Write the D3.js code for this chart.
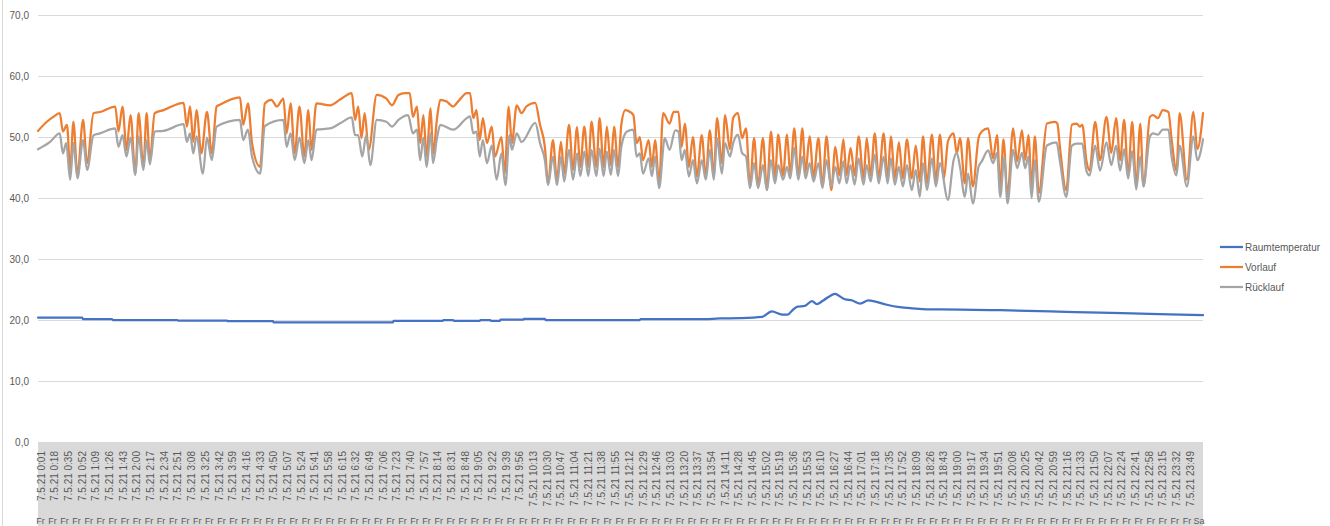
<!DOCTYPE html>
<html>
<head>
<meta charset="utf-8">
<script src="https://cdn.jsdelivr.net/npm/d3@7"></script>
<style>
  body { margin: 0; background: #fff; }
  svg { display: block; font-family: "Liberation Sans", Arial, sans-serif; }
</style>
</head>
<body>
<div id="chart"></div>
<script>
// values: [minute of day, °C]
var raumtemperatur = [[-3,20.4],[52,20.4],[53,20.15],[89,20.15],[90,20.0],[170,20.0],[171,19.9],[232,19.9],[233,19.8],[289,19.8],[290,19.6],[438,19.6],[439,19.85],[500,19.85],[501,20.0],[513,20.0],[514,19.85],[546,19.85],[547,20.0],[559,20.0],[560,19.85],[571,19.85],[572,20.05],[600,20.05],[601,20.2],[627,20.2],[628,20.0],[745,20.0],[746,20.15],[820,20.15],[845,20.25],[870,20.3],[897,20.5],[909,21.4],[922,20.9],[929,20.9],[934,21.5],[941,22.2],[950,22.3],[959,23.1],[965,22.6],[973,23.2],[988,24.3],[991,24.1],[1000,23.4],[1009,23.2],[1019,22.7],[1029,23.2],[1035,23.1],[1052,22.5],[1068,22.1],[1084,21.9],[1102,21.75],[1118,21.75],[1193,21.6],[1255,21.4],[1317,21.2],[1379,21.0],[1445,20.8]];

var vorlauf = [[-3,51.0],[8,52.5],[16,53.3],[24,53.9],[28,50.9],[33,52.0],[37,44.6],[41,52.5],[46,43.8],[53,52.8],[58,45.7],[66,53.9],[74,54.1],[93,55.0],[97,50.9],[102,55.0],[107,47.9],[112,53.6],[118,44.0],[122,53.9],[128,45.1],[132,53.9],[136,46.2],[142,53.9],[153,54.4],[178,55.6],[182,51.7],[186,55.0],[190,49.2],[194,54.4],[200,47.3],[207,54.1],[213,47.3],[219,55.0],[223,55.3],[248,56.5],[252,52.0],[258,55.5],[263,49.0],[273,45.1],[279,55.5],[287,56.1],[294,55.0],[302,56.3],[306,50.6],[311,55.5],[316,47.3],[322,55.0],[328,46.8],[333,54.4],[337,47.9],[343,55.5],[360,55.2],[372,56.1],[387,57.2],[391,52.8],[395,55.0],[399,49.8],[403,53.9],[408,47.9],[418,56.9],[430,56.3],[437,55.2],[445,56.9],[453,57.2],[459,57.2],[463,53.3],[468,55.0],[472,49.0],[476,53.6],[480,46.8],[485,54.7],[488,47.3],[493,53.1],[497,56.1],[505,55.8],[513,55.0],[519,55.8],[530,57.2],[534,57.2],[538,53.1],[542,54.4],[546,49.5],[550,53.1],[555,49.0],[561,51.7],[565,46.8],[573,50.0],[577,44.0],[582,55.0],[586,49.0],[592,55.2],[598,53.9],[604,55.0],[615,55.6],[621,52.0],[627,48.4],[631,42.4],[637,49.5],[642,43.0],[647,49.2],[651,44.0],[657,52.0],[662,44.6],[667,51.6],[671,45.1],[676,51.7],[681,45.1],[685,52.5],[691,45.1],[695,53.1],[700,45.1],[704,51.7],[709,45.4],[713,51.7],[718,45.1],[722,52.0],[727,54.4],[733,54.1],[737,53.6],[741,49.0],[745,50.0],[749,46.2],[756,49.5],[760,45.1],[764,49.5],[769,42.4],[774,53.9],[782,52.2],[787,54.1],[793,54.1],[797,48.4],[801,52.2],[806,45.1],[811,50.0],[816,43.5],[822,50.3],[827,43.5],[832,51.1],[837,43.7],[841,53.1],[847,45.7],[851,53.6],[857,48.0],[861,53.1],[867,53.9],[872,49.8],[877,51.4],[882,41.9],[887,49.8],[892,41.9],[898,49.8],[903,41.3],[908,50.9],[913,43.2],[917,50.4],[923,43.7],[928,50.4],[932,43.9],[937,51.4],[942,43.4],[947,51.4],[951,44.2],[956,50.1],[961,43.4],[967,49.8],[972,41.9],[977,50.1],[983,41.3],[988,48.4],[993,43.7],[998,49.6],[1002,43.7],[1007,48.2],[1012,43.7],[1017,50.1],[1023,43.2],[1027,49.8],[1032,43.7],[1037,50.6],[1042,43.2],[1048,50.6],[1053,43.2],[1057,50.1],[1062,43.2],[1067,49.1],[1072,43.2],[1077,49.6],[1083,43.2],[1088,48.6],[1093,42.7],[1097,50.1],[1102,42.4],[1108,50.4],[1113,42.7],[1118,50.4],[1123,43.2],[1128,49.3],[1135,50.6],[1139,47.3],[1143,49.8],[1149,42.4],[1153,49.8],[1159,41.9],[1166,49.8],[1170,50.9],[1178,51.4],[1184,46.5],[1189,50.3],[1193,41.9],[1197,49.6],[1202,40.5],[1209,51.4],[1214,46.0],[1220,51.1],[1224,46.2],[1228,50.3],[1232,41.9],[1236,50.1],[1241,40.8],[1251,52.2],[1261,52.5],[1264,52.2],[1267,48.6],[1275,41.3],[1282,52.0],[1288,52.2],[1292,51.7],[1295,52.0],[1300,46.2],[1304,44.5],[1311,52.5],[1317,46.2],[1325,53.3],[1331,47.4],[1337,53.1],[1342,46.2],[1347,52.8],[1352,43.7],[1357,52.5],[1362,41.9],[1367,52.2],[1371,41.9],[1379,53.3],[1383,53.6],[1389,53.1],[1395,54.4],[1402,54.1],[1406,49.6],[1412,44.5],[1416,53.9],[1425,43.0],[1433,54.1],[1438,48.0],[1445,53.9]];

var ruecklauf = [[-3,48.0],[12,49.2],[24,50.6],[28,47.3],[32,49.0],[37,43.0],[41,49.0],[46,43.2],[53,49.5],[58,44.6],[66,50.3],[74,50.6],[93,51.4],[97,48.4],[102,50.3],[107,46.8],[112,49.9],[118,43.8],[122,50.1],[128,44.6],[132,49.5],[136,45.5],[142,50.9],[153,51.0],[178,52.1],[182,49.2],[186,50.6],[190,47.3],[194,50.1],[202,44.0],[207,49.9],[213,46.2],[219,51.7],[248,52.8],[252,49.5],[258,51.2],[263,46.8],[273,44.0],[279,51.8],[302,52.8],[306,48.4],[311,50.6],[316,46.2],[322,49.9],[328,45.7],[333,49.5],[337,46.2],[343,51.2],[360,51.4],[372,52.2],[387,53.2],[391,50.3],[395,50.3],[400,46.8],[405,50.3],[410,45.4],[418,52.8],[430,52.5],[437,51.7],[445,52.8],[457,53.6],[463,50.6],[468,51.2],[472,46.2],[476,49.9],[480,45.1],[485,50.6],[488,45.7],[493,49.9],[497,52.0],[513,51.2],[530,53.1],[534,53.4],[538,50.6],[542,50.9],[546,46.8],[550,49.5],[555,45.7],[561,48.6],[567,43.0],[573,47.3],[578,42.1],[583,50.3],[586,47.9],[592,50.6],[598,49.2],[615,52.3],[621,49.0],[627,46.2],[631,42.1],[637,46.8],[642,42.1],[647,46.8],[651,42.7],[657,47.9],[662,43.0],[667,47.3],[671,43.6],[676,47.6],[681,43.6],[685,47.9],[691,43.6],[695,48.1],[700,43.6],[704,47.6],[709,43.8],[713,47.9],[718,43.6],[722,48.4],[729,50.9],[737,51.2],[741,46.8],[745,47.3],[749,44.0],[756,46.5],[760,43.6],[764,46.8],[769,41.6],[776,49.8],[782,47.9],[789,51.1],[793,50.9],[797,46.2],[801,47.9],[806,43.5],[811,46.2],[816,42.4],[822,46.2],[827,43.0],[832,47.9],[837,43.0],[841,49.8],[847,44.0],[851,49.0],[857,46.8],[861,49.0],[867,50.4],[872,47.4],[877,46.8],[882,41.6],[887,45.7],[892,41.6],[898,45.4],[903,41.3],[908,46.2],[913,42.4],[917,45.4],[923,43.0],[928,45.1],[932,43.2],[937,48.2],[942,43.0],[947,46.8],[951,43.2],[956,45.7],[961,42.7],[967,45.7],[972,41.6],[977,46.2],[983,41.9],[988,45.1],[993,42.4],[998,46.0],[1002,42.4],[1007,45.4],[1012,42.2],[1017,46.5],[1023,42.2],[1027,45.4],[1032,42.7],[1037,47.1],[1042,42.4],[1048,46.8],[1053,42.4],[1057,46.5],[1062,42.2],[1067,45.1],[1072,41.9],[1077,45.4],[1083,41.3],[1088,44.6],[1093,40.2],[1097,45.7],[1102,41.3],[1108,46.5],[1113,41.9],[1118,45.7],[1128,39.7],[1135,46.2],[1139,47.4],[1143,45.1],[1149,40.2],[1153,44.0],[1159,39.1],[1166,45.1],[1170,46.0],[1178,47.8],[1184,45.7],[1189,47.4],[1193,40.2],[1198,46.7],[1202,39.1],[1209,47.9],[1214,44.9],[1220,47.4],[1224,44.9],[1228,46.8],[1232,40.0],[1236,46.2],[1241,39.4],[1251,48.6],[1263,49.1],[1267,46.2],[1275,40.2],[1282,48.6],[1288,48.9],[1295,48.9],[1300,44.5],[1304,43.7],[1311,48.6],[1317,44.5],[1325,49.1],[1331,45.4],[1337,48.6],[1342,44.5],[1347,48.0],[1352,43.2],[1357,47.7],[1362,41.4],[1367,46.8],[1371,41.9],[1379,50.1],[1383,50.6],[1389,50.4],[1395,51.2],[1402,51.2],[1406,46.8],[1412,43.7],[1416,48.6],[1425,41.9],[1433,50.1],[1438,46.2],[1445,49.6]];

// category labels on the x axis
var dateLabel = "7.5.21";
var timeLabels = ["0:01","0:18","0:35","0:52","1:09","1:26","1:43","2:00","2:17","2:34","2:51","3:08","3:25","3:42","3:59","4:16","4:33","4:50","5:07","5:24","5:41","5:58","6:15","6:32","6:49","7:06","7:23","7:40","7:57","8:14","8:31","8:48","9:05","9:22","9:39","9:56","10:13","10:30","10:47","11:04","11:21","11:38","11:55","12:12","12:29","12:46","13:03","13:20","13:37","13:54","14:11","14:28","14:45","15:02","15:19","15:36","15:53","16:10","16:27","16:44","17:01","17:18","17:35","17:52","18:09","18:26","18:43","19:00","19:17","19:34","19:51","20:08","20:25","20:42","20:59","21:16","21:33","21:50","22:07","22:24","22:41","22:58","23:15","23:32","23:49"];
var dayLabels = ["Fr", "Sa"];
var yTicks = [0, 10, 20, 30, 40, 50, 60, 70];

var seriesNames = ["Raumtemperatur", "Vorlauf", "Rücklauf"];
var seriesColors = ["#4472C4", "#ED7D31", "#A5A5A5"];

var width = 1330, height = 526;
var plot = {left: 38, right: 1203, top: 15, bottom: 442};

var x = d3.scaleLinear().domain([-3, 1445]).range([plot.left, plot.right]);
var y = d3.scaleLinear().domain([0, 70]).range([plot.bottom, plot.top]);

var de = d3.formatLocale({decimal: ",", thousands: ".", grouping: [3], currency: ["", " €"]});
var fmt = de.format(".1f");

function toMinute(t) {
  var p = t.split(":");
  return +p[0] * 60 + +p[1];
}

var svg = d3.select("#chart").append("svg")
  .attr("width", width)
  .attr("height", height);

// chart border on the left
svg.append("line")
  .attr("x1", 2.5).attr("x2", 2.5)
  .attr("y1", 0).attr("y2", height)
  .attr("stroke", "#d9d9d9");

// y axis with gridlines
var yAxis = svg.append("g")
  .attr("transform", "translate(" + plot.left + ",0)")
  .call(d3.axisLeft(y).tickValues(yTicks).tickSize(-(plot.right - plot.left)).tickPadding(9).tickFormat(fmt));
yAxis.select(".domain").remove();
yAxis.selectAll(".tick line").attr("stroke", "#d9d9d9");
yAxis.selectAll(".tick text")
  .attr("fill", "#595959")
  .style("font-size", "10px")
  .style("font-family", "'Liberation Sans', Arial, sans-serif");

// grey band behind the category labels
svg.append("rect")
  .attr("x", plot.left)
  .attr("y", plot.bottom + 1)
  .attr("width", plot.right - plot.left)
  .attr("height", height - plot.bottom - 1)
  .attr("fill", "#d9d9d9");

var xLab = svg.append("g");
xLab.selectAll("text.time")
  .data(timeLabels)
  .enter().append("text")
  .attr("class", "time")
  .attr("transform", function(d) { return "translate(" + x(toMinute(d)) + ",451) rotate(-90)"; })
  .attr("dy", "0.35em")
  .attr("text-anchor", "end")
  .attr("fill", "#595959")
  .style("font-size", "10px")
  .text(function(d) { return dateLabel + " " + d; });

// weekday row, one entry per quarter hour, Saturday at midnight
var dayTicks = d3.range(0, 1440, 15).map(function(m) { return {m: m, t: dayLabels[0]}; });
dayTicks.push({m: 1440, t: dayLabels[1]});
xLab.selectAll("text.day")
  .data(dayTicks)
  .enter().append("text")
  .attr("class", "day")
  .attr("x", function(d) { return x(d.m); })
  .attr("y", 524)
  .attr("text-anchor", "middle")
  .attr("fill", "#595959")
  .style("font-size", "9px")
  .text(function(d) { return d.t; });

// lines
var line = d3.line()
  .curve(d3.curveMonotoneX)
  .x(function(d) { return x(d[0]); })
  .y(function(d) { return y(d[1]); });

var allSeries = [raumtemperatur, vorlauf, ruecklauf];
svg.append("g").selectAll("path")
  .data(allSeries)
  .enter().append("path")
  .attr("d", line)
  .attr("fill", "none")
  .attr("stroke", function(d, i) { return seriesColors[i]; })
  .attr("stroke-width", 2.25)
  .attr("stroke-linejoin", "round")
  .attr("stroke-linecap", "round");

// legend
var legend = svg.append("g").selectAll("g")
  .data(seriesNames)
  .enter().append("g")
  .attr("transform", function(d, i) { return "translate(1220," + (247 + i * 20) + ")"; });
legend.append("line")
  .attr("x1", 0).attr("x2", 23)
  .attr("stroke", function(d, i) { return seriesColors[i]; })
  .attr("stroke-width", 2.25);
legend.append("text")
  .attr("x", 25)
  .attr("dy", "0.35em")
  .attr("fill", "#595959")
  .style("font-size", "10px")
  .text(function(d) { return d; });
</script>
</body>
</html>
